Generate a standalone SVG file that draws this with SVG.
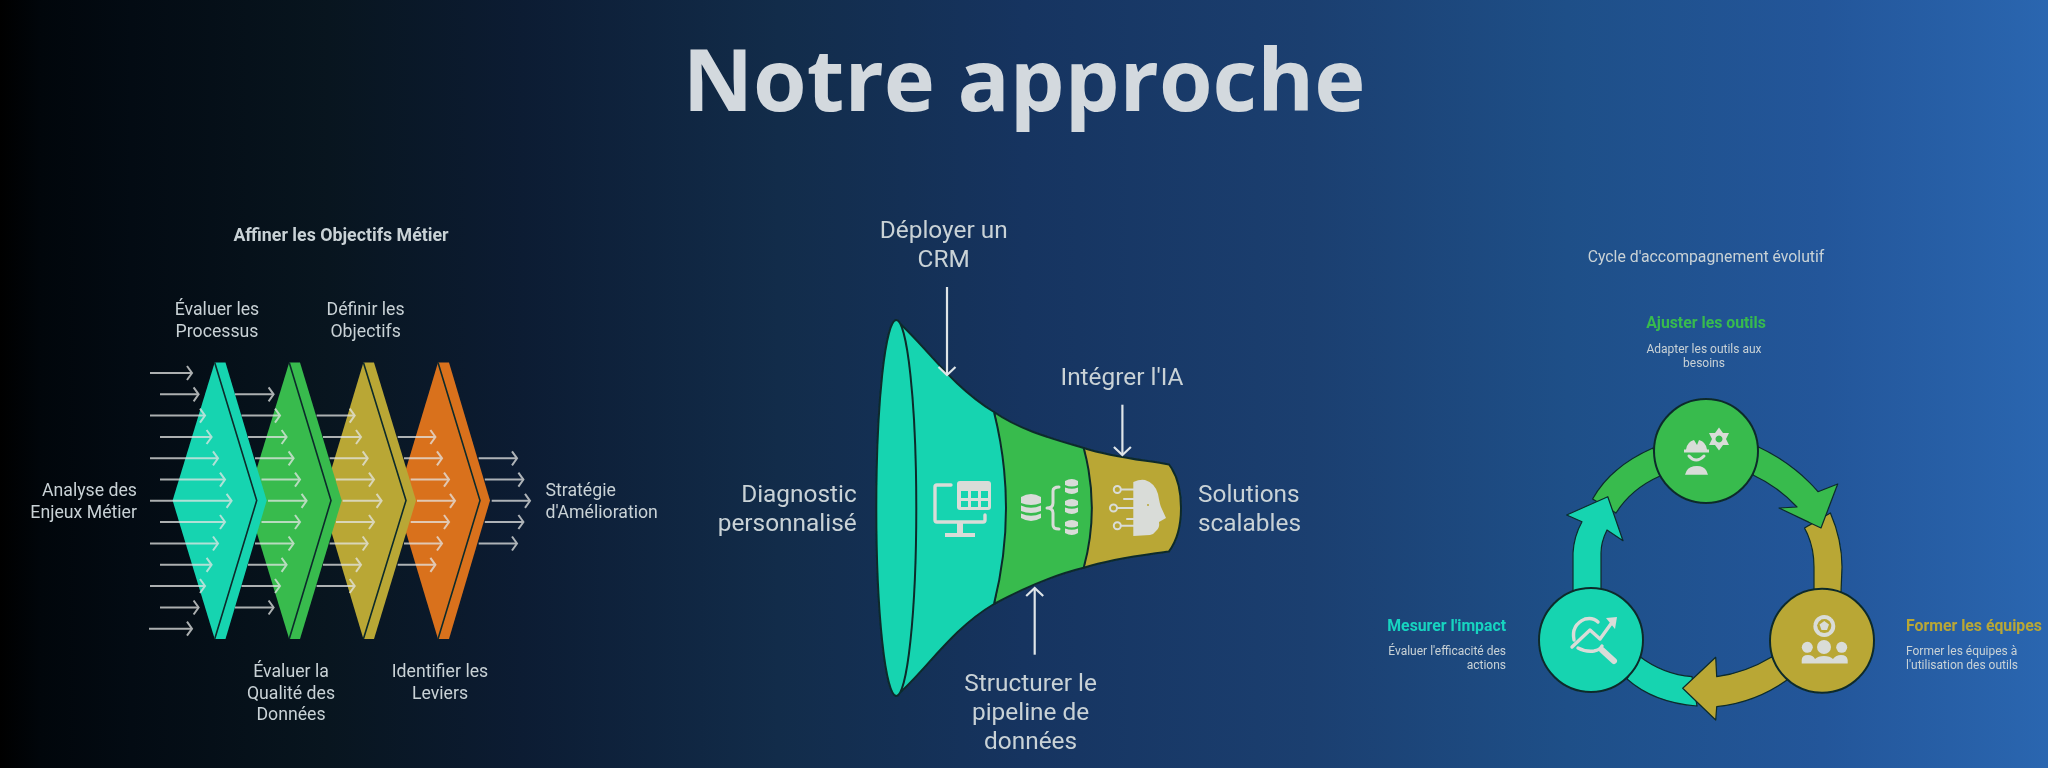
<svg xmlns="http://www.w3.org/2000/svg" width="2048" height="768" viewBox="0 0 2048 768">
<style>
text{font-family:Roboto,"Liberation Sans",sans-serif;fill:#c9d2d6}
.t{font-size:17.7px}.f{font-size:24.4px}.s{font-size:12px}.c{text-anchor:middle}.e{text-anchor:end}
.b{font-weight:700}.h{font-size:15.8px}
.sh{stroke:#0d2b2b;stroke-width:2;stroke-linejoin:round}
.l{fill:none;stroke:#0d2b2b;stroke-width:1.6}
.a{fill:none;stroke:#e4e6e4;stroke-width:2;opacity:.75;marker-end:url(#m)}
.fa{fill:none;stroke:#dfe5e8;stroke-width:2.2;marker-end:url(#n)}
.ic{fill:#d9dcd8;stroke:none}.is{fill:none;stroke:#d9dcd8;stroke-linecap:round;stroke-linejoin:round}
</style>
<defs>
<linearGradient id="bg" x1="0" y1="0" x2="1" y2="0">
<stop offset="0" stop-color="#000"/><stop offset=".02" stop-color="#01060b"/><stop offset=".064" stop-color="#030b13"/><stop offset=".16" stop-color="#08151f"/><stop offset=".255" stop-color="#0c1c33"/><stop offset=".38" stop-color="#122c4a"/><stop offset=".5" stop-color="#163460"/><stop offset=".64" stop-color="#1b3f70"/><stop offset=".765" stop-color="#1e4f88"/><stop offset=".89" stop-color="#23569a"/><stop offset="1" stop-color="#2a66b0"/>
</linearGradient>
<filter id="soft" x="0" y="0" width="100%" height="100%"><feGaussianBlur stdDeviation="0.5"/></filter>
<marker id="m" markerUnits="userSpaceOnUse" markerWidth="14" markerHeight="18" refX="7" refY="8" orient="auto" overflow="visible"><path d="M2,1 L7,8 L2,15" fill="none" stroke="#e4e6e4" stroke-width="2"/></marker>
<marker id="n" markerUnits="userSpaceOnUse" markerWidth="14" markerHeight="22" refX="9" refY="10" orient="auto" overflow="visible"><path d="M1,1.5 L9,10 L1,18.5" fill="none" stroke="#dfe5e8" stroke-width="2.2"/></marker>
</defs>
<rect width="2048" height="768" fill="url(#bg)"/>
<g filter="url(#soft)">
<text id="title" x="1024" y="111" class="c" style="font-family:'Open Sans','Liberation Sans',sans-serif;font-weight:700;font-size:86.7px;fill:#d3d9de">Notre approche</text>

<g id="left-diagram">
<text x="341" y="240.5" class="c b" style="font-size:17.8px">Affiner les Objectifs Métier</text>
<g id="chevron-orange"><path fill="#d9711f" d="M396.5,500.6 L438,362.5 H449 L490,500.6 L449,639 H438Z"/><path class="l" d="M438,362.5 L480,500.6 L438,639"/></g>
<g id="chevron-yellow"><path fill="#b9a736" d="M322,500.6 L363.4,362.5 H374 L416,500.6 L374,639 H363.4Z"/><path class="l" d="M363.4,362.5 L406,500.6 L363.4,639"/></g>
<g id="chevron-green"><path fill="#37bb4e" d="M247,500.6 L289.2,362.5 H300 L341.7,500.6 L300,639 H289.2Z"/><path class="l" d="M289.2,362.5 L331,500.6 L289.2,639"/></g>
<g id="chevron-teal"><path fill="#17d4b0" d="M172.6,500.6 L214.7,362.5 H225.5 L266.7,500.6 L225.5,639 H214.7Z"/><path class="l" d="M214.7,362.5 L256.7,500.6 L214.7,639"/></g>
<g id="connectors-left">
<path class="a" d="M150,373H192"/><path class="a" d="M160,394.3H198.6"/><path class="a" d="M150,415.6H205"/><path class="a" d="M160,437H211.6"/><path class="a" d="M150,458.3H218"/><path class="a" d="M160,479.6H225"/><path class="a" d="M150,500.8H231.6"/><path class="a" d="M160,522H225"/><path class="a" d="M150,543.5H218"/><path class="a" d="M160,564.8H211.6"/><path class="a" d="M150,586H205"/><path class="a" d="M160,607.5H198.6"/><path class="a" d="M149,628.7H192"/>
<path class="a" d="M235,394.3H273.6"/><path class="a" d="M241.5,415.6H280"/><path class="a" d="M248,437H286.6"/><path class="a" d="M255,458.3H293.6"/><path class="a" d="M261.5,479.6H300"/><path class="a" d="M268,500.8H306.6"/><path class="a" d="M261.5,522H300"/><path class="a" d="M255,543.5H293.6"/><path class="a" d="M248,564.8H286.6"/><path class="a" d="M241.5,586H280"/><path class="a" d="M235,607.5H273.6"/>
<path class="a" d="M316.6,415.6H354.7"/><path class="a" d="M323,437H361"/><path class="a" d="M329.6,458.3H367.7"/><path class="a" d="M336,479.6H374"/><path class="a" d="M342.6,500.8H381.6"/><path class="a" d="M336,522H374"/><path class="a" d="M329.6,543.5H367.7"/><path class="a" d="M323,564.8H361"/><path class="a" d="M316.6,586H354.7"/>
<path class="a" d="M397.7,437H435.4"/><path class="a" d="M404,458.3H442"/><path class="a" d="M410.7,479.6H449"/><path class="a" d="M417,500.8H455"/><path class="a" d="M410.7,522H449"/><path class="a" d="M404,543.5H442"/><path class="a" d="M397.7,564.8H435.4"/>
<path class="a" d="M478.7,458.3H517"/><path class="a" d="M484.8,479.6H523.4"/><path class="a" d="M491.7,500.8H530"/><path class="a" d="M484.8,522H523.4"/><path class="a" d="M478.7,543.5H517"/>
</g>
<g>
<text x="137" y="496" class="t e">Analyse des</text><text x="137" y="517.5" class="t e">Enjeux Métier</text>
<text x="217" y="315" class="t c">Évaluer les</text><text x="217" y="336.7" class="t c">Processus</text>
<text x="365.6" y="315" class="t c">Définir les</text><text x="365.6" y="336.7" class="t c">Objectifs</text>
<text x="291" y="677" class="t c">Évaluer la</text><text x="291" y="698.5" class="t c">Qualité des</text><text x="291" y="720" class="t c">Données</text>
<text x="440" y="677" class="t c">Identifier les</text><text x="440" y="698.5" class="t c">Leviers</text>
<text x="545.5" y="496" class="t">Stratégie</text><text x="545.5" y="517.5" class="t">d'Amélioration</text>
</g>
</g>

<g id="funnel">
<g id="funnel-yellow"><path class="sh" fill="#b9a736" d="M1083.7,448 C1115,458 1145,460 1169,464.5 Q1181,480 1181,508 Q1181,535 1169,551.4 C1145,555 1115,558 1083.7,567.8 Q1092.6,508 1083.7,448Z"/></g>
<g id="funnel-green"><path class="sh" fill="#37bb4e" d="M994,412 C1020,430 1050,438 1083.7,448 Q1100,508 1083.7,567.8 C1050,576 1020,590 994,604 Q1014,508 994,412Z"/></g>
<g id="funnel-teal"><path class="sh" fill="#17d4b0" d="M896,320 C925,345 950,385 994,412 Q1018,508 994,604 C950,630 925,672 896,696Z"/><ellipse class="sh" fill="#17d4b0" cx="896.3" cy="508" rx="20" ry="188"/></g>
<g id="icon-monitor" class="ic"><path class="is" stroke-width="3.4" d="M951,485H937Q935,485 935,487V520Q935,522 937,522H983Q985,522 985,520V515"/><path d="M957,523H963V533H957Z"/><path d="M945,533H975V537H945Z"/><rect x="957" y="481" width="34" height="29" rx="3"/><g fill="#17d4b0"><rect x="961" y="491" width="7" height="7"/><rect x="971" y="491" width="7" height="7"/><rect x="981" y="491" width="7" height="7"/><rect x="961" y="501" width="7" height="6"/><rect x="971" y="501" width="7" height="6"/><rect x="981" y="501" width="7" height="6"/></g></g>
<g id="icon-data" class="ic">
<path d="M1021,497Q1031,491 1041,497V503Q1031,507 1021,503Z"/><path d="M1021,505.5Q1031,510 1041,505.5V511Q1031,515 1021,511Z"/><path d="M1021,513.5Q1031,518 1041,513.5V518Q1031,524 1021,518Z"/>
<path class="is" stroke-width="3" d="M1059,487Q1053,487 1053,491V503Q1053,508 1047,508Q1053,508 1053,513V525Q1053,529 1059,529"/>
<path d="M1065,481Q1072,477 1078,481V485Q1072,488 1065,485Z"/><path d="M1065,487.5Q1072,490 1078,487.5V492Q1072,496 1065,492Z"/>
<path d="M1065,501Q1072,497 1078,501V505Q1072,508 1065,505Z"/><path d="M1065,507.5Q1072,510 1078,507.5V512Q1072,516 1065,512Z"/>
<path d="M1065,522Q1072,518 1078,522V526Q1072,529 1065,526Z"/><path d="M1065,528.5Q1072,531 1078,528.5V533Q1072,537 1065,533Z"/>
</g>
<g id="icon-head" class="ic"><path d="M1133.3,482Q1140,479 1145,480Q1155,483 1158,494Q1160,505 1161,507L1166,518L1159,522Q1160,528 1156,531Q1154,534 1150,535L1133.3,536Z"/><circle cx="1148" cy="505" r="1" fill="#b9a736"/><g class="is" stroke-width="2"><circle cx="1117.3" cy="489.5" r="3.5"/><circle cx="1113.5" cy="508" r="3.5"/><circle cx="1117.3" cy="525.7" r="3.5"/><path d="M1121,489.5H1134M1117,508H1134M1121,525.7H1134M1124,499H1134M1127,519H1134"/></g></g>
</g>
<g id="connectors-funnel">
<path class="fa" d="M947,287V375"/><path class="fa" d="M1122.4,404.7V455"/><path class="fa" d="M1034.7,654.7V588"/>
</g>
<g id="funnel-labels">
<text x="943.7" y="238" class="f c">Déployer un</text><text x="943.7" y="267" class="f c">CRM</text>
<text x="1122" y="385" class="f c">Intégrer l'IA</text>
<text x="856.7" y="502" class="f e">Diagnostic</text><text x="856.7" y="530.5" class="f e">personnalisé</text>
<text x="1198" y="502" class="f">Solutions</text><text x="1198" y="530.5" class="f">scalables</text>
<text x="1030.6" y="691" class="f c">Structurer le</text><text x="1030.6" y="720" class="f c">pipeline de</text><text x="1030.6" y="749" class="f c">données</text>
</g>

<g id="cycle">
<text x="1706" y="262" class="c" style="font-size:15.8px">Cycle d'accompagnement évolutif</text>
<g id="connectors-cycle">
<path class="sh" style="stroke-width:1.2" fill="#17d4b0" d="M1640,656.7 C1655,668 1672,675 1692,676.7 L1697,706 C1670,704 1645,695 1627,679Z"/>
<path class="sh" style="stroke-width:1.2" fill="#b9a736" d="M1830.4,513 Q1842,540 1842,567 L1841,592 H1814 L1814,567 Q1814,545 1804.5,528Z"/>
<path class="sh" style="stroke-width:1.2" fill="#37bb4e" d="M1653,448 C1630,458 1606,475 1592.6,499 L1616,513 C1626,497 1642,484 1660,476Z"/>
<path class="sh" style="stroke-width:1.2" fill="#17d4b0" d="M1573,592 V553 Q1574,536 1582,521.7 L1566.7,515 L1607.8,496.7 L1623,540.7 L1607,530 Q1601,542 1601,553 V592Z"/>
<path class="sh" style="stroke-width:1.2" fill="#37bb4e" d="M1758,446.7 C1780,457 1802,473 1818,491.7 L1837.7,484 L1821,528 L1779,508 L1797,507 C1785,494 1770,483 1753,475Z"/>
<path class="sh" style="stroke-width:1.2" fill="#b9a736" d="M1771.7,657 C1755,667 1737,674 1716.7,676.7 L1715.7,657.3 L1682.7,688.3 L1715.7,720 L1716.7,706.7 C1742,704 1766,695 1787,680Z"/>
</g>
<g id="node-ajuster">
<circle class="sh" fill="#37bb4e" cx="1706" cy="451" r="52"/>
<g class="ic"><path d="M1684,452.5V449.5H1686Q1687,442 1694,440L1697,445L1699,440Q1706,442 1707,449.5H1709V452.5Z"/><path d="M1685,474.7Q1687,466 1697,466Q1706,466 1708,474.7Z"/><path class="is" stroke-width="3" d="M1689,456Q1696,464 1704,456"/>
<path fill-rule="evenodd" d="M1719,427.5L1723,433L1729,433L1726,439L1729,445L1723,445L1719,450.5L1715,445L1709,445L1712,439L1709,433L1715,433ZM1719,435.5a3.5,3.5 0 1 0 .01,0Z"/></g>
</g>
<g id="node-former">
<circle class="sh" fill="#b9a736" cx="1822" cy="640.7" r="52"/>
<g class="ic"><circle class="is" stroke-width="4" cx="1824.3" cy="626" r="9" stroke-dasharray="8 2"/><path d="M1824.3,621L1829,624.5L1827,630H1821.5L1819.5,624.5Z"/><circle cx="1807.3" cy="647.3" r="5.5"/><circle cx="1824" cy="647" r="7"/><circle cx="1841.7" cy="647.3" r="5.5"/><path d="M1801.7,663.5V660Q1802,655 1808,655Q1813,655 1815,659Q1818,656 1824,656Q1830,656 1833,659Q1836,655 1841,655Q1847,655 1847.7,660V663.5Z"/></g>
</g>
<g id="node-mesurer">
<circle class="sh" fill="#17d4b0" cx="1591" cy="640" r="52"/>
<g><path class="is" stroke-width="3.4" d="M1574,640Q1571,625 1585,619Q1593,617 1598,622M1578,648Q1585,652 1594,651Q1600,650 1602,646"/><path class="is" stroke-width="3.4" d="M1572,647L1590,630L1600,639L1613,621"/><path class="ic" d="M1606,618L1617,617L1615,629Z"/><path class="is" stroke-width="6" d="M1602,650L1614,661"/></g>
</g>
<text x="1706" y="328" class="c b h" style="fill:#37bb4e">Ajuster les outils</text>
<text x="1704" y="352.7" class="s c">Adapter les outils aux</text><text x="1704" y="367" class="s c">besoins</text>
<text x="1506" y="630.7" class="e b h" style="fill:#18d4c0">Mesurer l'impact</text>
<text x="1506" y="655" class="s e">Évaluer l'efficacité des</text><text x="1506" y="669" class="s e">actions</text>
<text x="1906" y="630.7" class="b h" style="fill:#b9a736">Former les équipes</text>
<text x="1906" y="655" class="s">Former les équipes à</text><text x="1906" y="669" class="s">l'utilisation des outils</text>
</g>
</g>
</svg>
